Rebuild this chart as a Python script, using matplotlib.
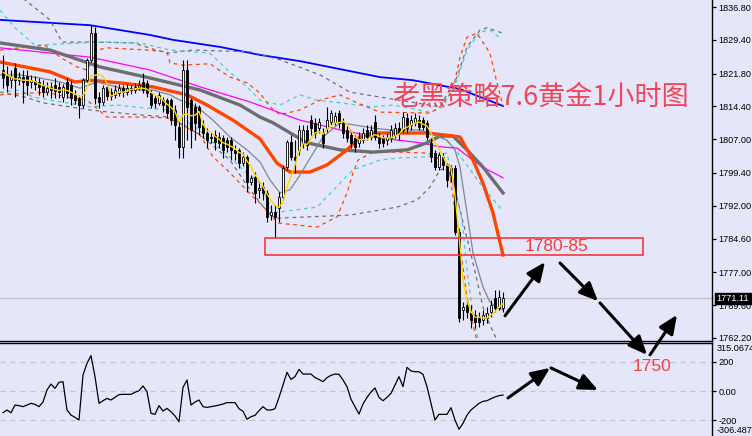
import numpy as np
import matplotlib
matplotlib.use('Agg')
import matplotlib.pyplot as plt
from matplotlib.patches import Rectangle
import matplotlib.transforms as mtransforms

# ---------------- candle data (XAUUSD H1) ----------------
opens = [1822.6, 1821.3, 1820.4, 1823.1, 1820.4, 1821.0, 1821.3, 1819.9, 1820.1, 1819.9,
         1819.2, 1817.6, 1818.8, 1819.2, 1818.8, 1816.5, 1819.9, 1819.2, 1817.0, 1816.3,
         1814.7, 1820.4, 1824.9, 1830.9, 1816.5, 1815.4, 1818.8, 1817.6, 1817.0, 1817.4,
         1818.5, 1817.6, 1818.5, 1818.1, 1818.8, 1819.9, 1819.7, 1817.4, 1816.3, 1815.2,
         1815.8, 1815.8, 1815.8, 1813.6, 1809.8, 1805.3, 1822.6, 1815.8, 1814.3, 1814.3,
         1810.2, 1808.4, 1807.5, 1808.0, 1807.5, 1807.3, 1806.8, 1806.8, 1804.6, 1804.6,
         1801.6, 1803.0, 1797.4, 1798.5, 1795.6, 1796.2, 1794.9, 1789.9, 1790.6, 1791.5,
         1794.0, 1800.7, 1806.4, 1803.0, 1804.6, 1806.2, 1809.1, 1811.3, 1810.7, 1809.5,
         1808.4, 1809.5, 1810.9, 1810.9, 1812.9, 1810.7, 1809.1, 1808.0, 1807.3, 1806.2,
         1806.8, 1809.1, 1807.5, 1810.9, 1807.3, 1807.3, 1806.8, 1807.3, 1808.0, 1809.5,
         1809.1, 1811.8, 1810.2, 1810.7, 1811.3, 1811.3, 1810.7, 1806.2, 1803.9, 1800.7,
         1803.0, 1801.2, 1798.9, 1800.5, 1786.1, 1768.5, 1769.6, 1767.8, 1767.4, 1766.7,
         1766.3, 1766.7, 1768.1, 1771.2, 1769.0, 1769.0]
highs = [1826.0, 1823.5, 1822.6, 1824.2, 1822.2, 1822.6, 1822.6, 1821.5, 1821.3, 1820.8,
         1820.4, 1819.9, 1819.9, 1820.8, 1819.9, 1819.5, 1820.8, 1820.4, 1818.1, 1817.0,
         1820.8, 1825.3, 1832.8, 1832.3, 1817.6, 1819.2, 1819.2, 1818.5, 1819.2, 1819.5,
         1819.2, 1819.5, 1819.2, 1819.7, 1820.4, 1821.9, 1820.4, 1818.1, 1817.0, 1817.6,
         1816.5, 1816.3, 1816.3, 1814.7, 1811.3, 1824.9, 1824.9, 1816.3, 1815.2, 1814.7,
         1811.3, 1809.5, 1808.6, 1809.1, 1808.6, 1808.0, 1807.5, 1807.5, 1805.7, 1805.0,
         1804.1, 1803.4, 1798.9, 1799.6, 1797.1, 1797.4, 1795.6, 1792.2, 1792.2, 1795.1,
         1801.2, 1806.8, 1808.0, 1806.8, 1810.2, 1810.2, 1810.2, 1812.5, 1811.8, 1811.8,
         1809.5, 1814.3, 1813.6, 1813.1, 1813.6, 1811.8, 1810.2, 1809.1, 1808.0, 1808.6,
         1809.5, 1810.2, 1810.2, 1812.5, 1808.4, 1808.0, 1808.4, 1810.2, 1810.7, 1810.9,
         1813.1, 1812.9, 1812.5, 1812.9, 1812.5, 1812.0, 1811.3, 1807.3, 1804.6, 1804.1,
         1803.9, 1801.6, 1801.2, 1801.2, 1787.0, 1770.3, 1770.8, 1769.6, 1768.5, 1768.1,
         1768.5, 1769.2, 1770.8, 1773.0, 1773.0, 1772.6]
lows = [1818.5, 1817.6, 1818.5, 1816.5, 1819.2, 1815.2, 1817.0, 1818.5, 1818.1, 1817.0,
        1816.5, 1817.0, 1816.3, 1816.3, 1816.3, 1815.4, 1816.3, 1814.7, 1814.9, 1811.8,
        1814.0, 1819.9, 1824.4, 1814.9, 1814.0, 1814.7, 1815.8, 1815.8, 1816.3, 1816.7,
        1816.5, 1817.0, 1817.2, 1817.4, 1818.1, 1817.4, 1816.5, 1814.0, 1814.0, 1814.7,
        1813.1, 1811.8, 1810.2, 1806.8, 1802.8, 1802.8, 1806.8, 1805.0, 1806.8, 1808.0,
        1807.3, 1805.0, 1806.2, 1804.6, 1805.0, 1802.8, 1804.1, 1802.3, 1802.3, 1800.5,
        1801.0, 1795.1, 1796.7, 1792.6, 1793.8, 1793.3, 1788.3, 1788.8, 1784.7, 1788.3,
        1793.3, 1800.1, 1802.3, 1799.4, 1803.4, 1805.0, 1804.6, 1808.0, 1807.3, 1808.4,
        1805.0, 1808.6, 1810.2, 1810.2, 1809.5, 1807.3, 1806.4, 1805.0, 1804.1, 1805.3,
        1806.2, 1806.8, 1806.8, 1806.8, 1805.0, 1805.3, 1805.7, 1806.4, 1807.3, 1806.8,
        1808.4, 1808.4, 1809.1, 1810.0, 1809.1, 1809.1, 1806.8, 1801.9, 1800.1, 1800.1,
        1800.1, 1796.2, 1797.4, 1785.4, 1765.8, 1766.3, 1766.7, 1764.4, 1764.4, 1764.7,
        1765.1, 1765.6, 1766.9, 1768.1, 1768.5, 1768.1]
closes = [1820.8, 1819.2, 1821.0, 1820.4, 1821.0, 1819.9, 1819.2, 1820.4, 1819.5, 1818.8,
          1817.6, 1818.5, 1818.1, 1817.9, 1817.6, 1818.8, 1817.4, 1816.3, 1815.8, 1814.7,
          1820.4, 1824.9, 1830.9, 1816.3, 1815.4, 1818.5, 1816.7, 1816.7, 1818.1, 1818.5,
          1817.6, 1818.5, 1818.1, 1818.8, 1819.2, 1818.1, 1817.4, 1814.7, 1815.2, 1817.0,
          1814.7, 1812.9, 1811.3, 1810.2, 1805.3, 1822.6, 1814.3, 1809.1, 1810.7, 1809.8,
          1808.4, 1806.8, 1807.3, 1806.4, 1806.2, 1804.6, 1805.3, 1804.6, 1803.9, 1801.6,
          1803.0, 1797.4, 1798.3, 1794.9, 1796.0, 1794.9, 1789.5, 1790.6, 1789.5, 1794.0,
          1800.5, 1806.4, 1803.0, 1802.3, 1809.1, 1809.1, 1805.7, 1809.5, 1808.4, 1810.9,
          1806.2, 1811.3, 1812.9, 1812.2, 1810.7, 1808.4, 1807.3, 1806.2, 1805.3, 1807.3,
          1808.4, 1807.5, 1809.1, 1807.5, 1806.2, 1806.2, 1807.5, 1809.1, 1809.5, 1808.4,
          1812.0, 1809.5, 1811.3, 1811.8, 1809.8, 1809.8, 1807.5, 1803.0, 1800.7, 1803.4,
          1801.2, 1797.8, 1800.5, 1786.1, 1766.7, 1769.2, 1768.1, 1766.3, 1765.8, 1765.8,
          1767.4, 1767.8, 1769.6, 1769.0, 1771.4, 1771.1]

# fast moving average (yellow), one value per bar
ma_fast = [1822.1, 1821.5, 1821.0, 1820.6, 1820.5, 1820.3, 1820.3, 1820.2, 1820.0, 1819.5,
           1819.1, 1819.0, 1818.5, 1818.2, 1818.0, 1818.2, 1818.0, 1817.6, 1817.2, 1816.6,
           1816.9, 1818.4, 1821.3, 1821.4, 1821.6, 1821.2, 1819.6, 1816.7, 1817.1, 1817.7,
           1817.6, 1817.9, 1818.2, 1818.3, 1818.5, 1818.5, 1818.3, 1817.6, 1816.9, 1816.5,
           1815.8, 1814.9, 1814.2, 1813.2, 1810.9, 1812.5, 1812.7, 1812.3, 1812.4, 1813.3,
           1810.4, 1808.9, 1808.6, 1807.7, 1807.0, 1806.2, 1805.9, 1805.4, 1804.9, 1804.0,
           1803.7, 1802.1, 1800.8, 1799.0, 1797.9, 1796.3, 1794.7, 1793.2, 1792.1, 1791.7,
           1792.8, 1796.2, 1798.7, 1801.2, 1804.3, 1806.0, 1805.8, 1807.1, 1808.4, 1808.7,
           1808.1, 1809.3, 1809.9, 1810.7, 1810.7, 1811.1, 1810.3, 1808.9, 1807.5, 1806.9,
           1806.9, 1806.9, 1807.5, 1808.0, 1807.7, 1807.3, 1807.3, 1807.3, 1807.7, 1808.1,
           1809.3, 1809.7, 1810.2, 1810.6, 1810.9, 1810.4, 1810.0, 1808.4, 1806.2, 1804.9,
           1803.2, 1801.2, 1800.7, 1794.4, 1785.4, 1775.3, 1770.8, 1768.1, 1766.9, 1766.9,
           1766.7, 1766.7, 1767.4, 1768.1, 1769.2, 1769.9]

# CCI values (lower window), one per bar
cci = [-150, -131, -150, -97, -101, -108, -97, -85, -92, -108,
       -76, 7, 48, 18, 60, 64, -131, -166, -182, -200,
       110, 191, 244, 99, -85, -67, -51, -62, -44, -25,
       -23, -23, -23, -9, 2, 35, -5, -154, -161, -101,
       -138, -120, -143, -172, -212, 25, 76, -97, -76, -62,
       -108, -113, -108, -103, -97, -90, -80, -80, -80, -122,
       -140, -195, -177, -168, -136, -108, -131, -131, -122, -44,
       41, 129, 80, 99, 149, 117, 117, 117, 92, 80,
       64, 92, 108, 117, 115, 76, 30, -57, -108, -159,
       -90, -44, -7, 21, -44, -67, -44, -16, 41, 99,
       30, 163, 138, 133, 133, 115, 30, -85, -200, -161,
       -161, -161, -115, -200, -264, -223, -166, -131, -108, -85,
       -71, -67, -53, -41, -32, -28]

# traced indicator lines (bar position, price)
blue_x = [-0.75, 21.75, 36.75, 42.5, 54.25, 64.25, 74.25, 94.25, 102.5, 114.25, 125]
blue_p = [1833.9, 1832.7, 1830.5, 1829.4, 1827.8, 1826.0, 1824.6, 1821.0, 1820.3, 1818.3, 1814.5]

mag_x = [-0.75, 21.75, 36.75, 49.25, 61.75, 74.25, 84.25, 94.25, 104.25, 109.25, 113.5, 116.75, 120, 125]
mag_p = [1827.6, 1825.5, 1822.6, 1818.8, 1815.4, 1811.3, 1809.1, 1807.3, 1806.2, 1805.3, 1805.0, 1802.8, 1800.7, 1798.3]

gthick_x = [-0.75, 11.75, 24.25, 36.75, 49.25, 59.25, 64.25, 67.5, 76, 84.25, 92.5, 101, 106, 109.25, 112.5, 116, 120, 125]
gthick_p = [1828.7, 1827.1, 1823.3, 1820.8, 1818.1, 1814.7, 1812.0, 1810.7, 1806.2, 1804.6, 1804.1, 1804.6, 1806.2, 1807.7, 1807.7, 1804.6, 1800.7, 1794.9]

othick_x = [-0.75, 11.75, 18, 21.75, 29.25, 37.5, 46, 51, 57.5, 64.25, 68.5, 71.75, 76.75, 81, 86, 89.25, 92.5, 106, 111, 114.25, 117.5, 120, 122.5, 125]
othick_p = [1824.4, 1822.2, 1819.9, 1820.3, 1819.7, 1818.8, 1817.0, 1814.7, 1811.3, 1807.1, 1801.6, 1799.6, 1799.6, 1801.2, 1804.6, 1807.5, 1808.4, 1808.4, 1807.9, 1807.5, 1802.3, 1797.1, 1790.4, 1780.9]

gthin_x = [-0.75, 4.25, 9.25, 14.25, 19.25, 23.5, 27.5, 31.75, 37.5, 41.75, 44.25, 48.5, 52.5, 56.75, 61, 64.25, 66.75, 69.25, 71.75, 74.25, 76, 80, 84.25, 88, 92.5, 96.75, 101, 104.25, 107.5, 111, 113, 114.25, 116, 117.5, 120, 121.75, 123.5, 125]
gthin_p = [1821.5, 1821.5, 1820.8, 1819.9, 1818.5, 1819.9, 1819.0, 1818.1, 1818.1, 1817.0, 1815.8, 1814.3, 1811.3, 1807.5, 1804.6, 1801.9, 1797.8, 1794.9, 1795.6, 1798.9, 1801.6, 1807.5, 1810.7, 1810.2, 1809.5, 1809.1, 1809.1, 1809.1, 1808.0, 1806.8, 1804.6, 1800.7, 1790.4, 1781.4, 1773.7, 1770.3, 1769.0, 1768.5]

# dashed envelopes
orU_x = [-0.75, 10.5, 14.25, 18.5, 21, 23.5, 26, 36, 41, 41.75, 45, 51.75, 56.75, 61, 64.25, 66.75, 69.25, 74.25, 79.25, 84.25, 88.5, 94.25, 106.75, 109.25, 112.5, 114.25, 116, 118.5, 121.75, 123.5, 125]
orU_p = [1827.1, 1828.2, 1825.5, 1823.3, 1822.6, 1827.1, 1827.6, 1827.1, 1826.7, 1824.2, 1823.7, 1824.0, 1821.0, 1819.7, 1817.4, 1814.3, 1812.5, 1813.6, 1815.8, 1817.0, 1815.2, 1813.1, 1812.9, 1814.3, 1818.1, 1825.5, 1830.0, 1830.9, 1826.4, 1819.7, 1814.5]
orL_x = [-0.75, 11, 16, 21, 26, 35, 41, 43.5, 49.25, 52.5, 56, 58.5, 62.5, 64.25, 68.75, 78.5, 83.5, 86, 87.5, 88.75, 92.5, 98.5, 106, 111.25, 113.75, 116, 117.5, 118.75]
orL_p = [1817.0, 1817.6, 1816.5, 1815.8, 1812.0, 1812.0, 1811.8, 1810.9, 1808.0, 1803.0, 1800.1, 1797.8, 1794.0, 1792.6, 1788.1, 1787.2, 1789.5, 1794.9, 1799.4, 1802.3, 1804.1, 1804.1, 1803.9, 1801.6, 1786.5, 1771.4, 1765.1, 1760.6]
cyU_x = [-0.75, 3, 8, 24.25, 34.25, 41.75, 51.75, 56.75, 61, 64.25, 69.25, 74.25, 78.5, 84.25, 92.5, 97.5, 106.75, 110, 113.5, 116, 119.25, 121.75, 124.25]
cyU_p = [1836.1, 1832.1, 1828.2, 1828.9, 1828.7, 1827.1, 1826.4, 1822.1, 1818.8, 1815.8, 1814.7, 1817.0, 1815.8, 1815.2, 1814.3, 1814.7, 1813.1, 1814.3, 1820.3, 1827.1, 1831.2, 1831.6, 1829.8]
cyL_x = [-0.75, 4.25, 7.5, 21.75, 28.5, 36, 41, 44.25, 48.5, 51.75, 56.75, 60, 64.25, 67.5, 78.5, 84.25, 87.5, 94.25, 99.25, 106, 111, 114.75, 116, 117.25, 118.25, 119.25]
cyL_p = [1817.6, 1818.1, 1816.5, 1814.3, 1814.7, 1814.0, 1813.6, 1812.0, 1809.5, 1806.8, 1803.0, 1800.1, 1797.1, 1790.4, 1791.7, 1797.1, 1800.1, 1802.3, 1802.8, 1803.0, 1803.9, 1788.8, 1777.5, 1769.2, 1764.0, 1760.6]
cyM_x = [104.25, 109.25, 112.5, 115, 119.25, 124.75]
cyM_p = [1809.1, 1808.0, 1805.3, 1802.3, 1797.1, 1791.0]
grU_x = [0.25, 5.5, 11.75, 14.75, 23.5, 32.5, 41, 47.5, 61.75, 69.25, 79.25, 86.75, 94.25, 109.25, 113.5, 116, 119.25, 121, 125]
grU_p = [1840.6, 1838.4, 1833.9, 1828.9, 1828.9, 1828.7, 1826.4, 1827.1, 1826.7, 1824.9, 1821.5, 1817.6, 1816.5, 1814.3, 1821.0, 1827.8, 1831.6, 1832.1, 1830.9]
grL_x = [-0.75, 5.5, 10, 21.75, 26.75, 34.25, 41.75, 49.25, 56.75, 61.75, 66.75, 68.5, 86.75, 98.5, 103.5, 106.75, 109.25, 111, 113, 115.5, 117.5, 120, 121.75, 123.5]
grL_p = [1817.6, 1816.5, 1815.2, 1813.6, 1813.1, 1812.5, 1812.0, 1808.0, 1802.3, 1795.6, 1789.9, 1789.2, 1789.9, 1791.7, 1793.3, 1796.2, 1800.1, 1800.5, 1795.6, 1786.5, 1779.1, 1769.2, 1765.1, 1761.7]

# axis values / labels
main_ticks = [1836.80, 1829.40, 1821.80, 1814.40, 1807.00, 1799.40, 1792.00, 1784.60, 1777.00, 1769.60, 1762.20]
cci_ticks = [200, 0, -200]
cci_tick_labels = ['200', '0.00', '-200']
cci_max_label, cci_min_label = '315.0674', '-306.487'
last_price = 1771.11

# annotations
zone_x = (65.5, 160.0)
zone_p = (1780.9, 1784.74)
title_text = '老黑策略7.6黄金1小时图'
zone_text = '1780-85'
target_text = '1750'
arrows_main = [((125.5, 1767.2), (135.5, 1779.3)),
               ((139.25, 1779.1), (148.75, 1770.5)),
               ((149.25, 1770.1), (161.0, 1758.4)),
               ((161.75, 1758.4), (168.5, 1767.4))]
arrows_cci = [((126.25, -48), (136.75, 159)),
              ((137.0, 159), (148.75, 7))]

# ---------------- figure ----------------
W, H, DPI = 752, 436, 100
BG = '#e6e6fa'
LBL = 6.6
plt.rcParams['font.family'] = ['Liberation Sans', 'DejaVu Sans']

fig = plt.figure(figsize=(W / DPI, H / DPI), dpi=DPI, facecolor=BG)
ax = fig.add_axes([0, 95 / H, 712 / W, 341 / H], facecolor=BG)
ax2 = fig.add_axes([0, 0, 712 / W, 93 / H], facecolor=BG)
ax.set_zorder(2)
ax2.set_zorder(1)

XL = (-0.75, 177.25)
for a in (ax, ax2):
    a.set_xlim(*XL)
    a.set_xticks([])
    for s in ('left', 'top', 'bottom', 'right'):
        a.spines[s].set_visible(False)
    a.spines['right'].set_visible(True)
    a.spines['right'].set_color('black')
    a.spines['right'].set_linewidth(1.0)
ax.spines['bottom'].set_visible(True)
ax.spines['bottom'].set_linewidth(1.0)
ax2.spines['top'].set_visible(True)
ax2.spines['top'].set_linewidth(1.0)

ax.set_ylim(1761.52, 1838.38)
ax2.set_ylim(-310.3, 331.0)

x = np.arange(len(closes))
o = np.array(opens); c = np.array(closes)
hgt = c - o
hgt = np.where(np.abs(hgt) < 0.08, -0.08, hgt)

dash = (0, (3, 3))
ax.axhline(last_price, color='#c0c0c0', lw=0.9, zorder=1)

# indicator lines
ax.plot(blue_x, blue_p, color='#0000ff', lw=1.3, zorder=2)
ax.plot(grU_x, grU_p, color='#707070', lw=0.9, ls=dash, zorder=2)
ax.plot(grL_x, grL_p, color='#707070', lw=0.9, ls=dash, zorder=2)
ax.plot(cyU_x, cyU_p, color='#40d0d0', lw=0.9, ls=dash, zorder=2)
ax.plot(cyL_x, cyL_p, color='#40d0d0', lw=0.9, ls=dash, zorder=2)
ax.plot(cyM_x, cyM_p, color='#40d0d0', lw=0.9, ls=dash, zorder=2)
ax.plot(orU_x, orU_p, color='#ff4500', lw=0.9, ls=dash, zorder=2)
ax.plot(orL_x, orL_p, color='#ff4500', lw=0.9, ls=dash, zorder=2)
ax.plot(mag_x, mag_p, color='#ff00ff', lw=0.9, zorder=2)
ax.plot(gthick_x, gthick_p, color='#6e6e6e', lw=2.4, zorder=2)
ax.plot(othick_x, othick_p, color='#ff4500', lw=2.4, zorder=2)
ax.plot(gthin_x, gthin_p, color='#7a8896', lw=0.9, zorder=2)

# candles
ax.vlines(x, lows, highs, color='black', lw=0.8, zorder=3)
cols = ['white' if cc > oo else 'black' for oo, cc in zip(opens, closes)]
ax.bar(x, hgt, bottom=o, width=0.72, color=cols, edgecolor='black', linewidth=0.6, zorder=4)

ax.plot(x, ma_fast, color='#ffd700', lw=1.0, zorder=5)

# zone box and texts
ax.add_patch(Rectangle((zone_x[0], zone_p[0]), zone_x[1] - zone_x[0], zone_p[1] - zone_p[0],
                       fill=False, edgecolor='#f03a3a', lw=1.2, zorder=6))
ax.text(138.25, 1782.8, zone_text, color='#f04040', fontsize=12.5, ha='center', va='center', zorder=7)
ax.text(134.5, 1816.6, title_text, color='#f0465a', fontsize=19.5, ha='center', va='center',
        family=['Noto Sans CJK SC', 'DejaVu Sans'], zorder=7)

aprops = dict(arrowstyle='-|>,head_length=0.8,head_width=0.35', color='black', lw=2.2,
              mutation_scale=14, shrinkA=0, shrinkB=0)
for (s, e) in arrows_main:
    ax.annotate('', xy=e, xytext=s, arrowprops=aprops, annotation_clip=False, zorder=8)
for (s, e) in arrows_cci:
    ax2.annotate('', xy=e, xytext=s, arrowprops=aprops, annotation_clip=False, zorder=8)

# right price scale
ax.yaxis.tick_right()
ax.set_yticks(main_ticks)
ax.set_yticklabels([f'{t:.2f}' for t in main_ticks])
ax.tick_params(axis='y', direction='out', length=3, width=0.9, pad=1.5, labelsize=LBL, colors='black')
trans = mtransforms.blended_transform_factory(ax.transAxes, ax.transData)
ax.text(1.0 + 4.5 / 712, last_price, f'{last_price:.2f}', transform=trans, color='white',
        fontsize=LBL, ha='left', va='center', clip_on=False, zorder=10,
        bbox=dict(boxstyle='square,pad=0.15', fc='black', ec='black'))

# lower window (CCI)
for lv in cci_ticks:
    ax2.axhline(lv, color='#c4c4c4', lw=0.9, ls=(0, (4, 4)), zorder=1)
ax2.plot(x, cci, color='black', lw=0.9, zorder=3)
ax2.yaxis.tick_right()
ax2.set_yticks(cci_ticks)
ax2.set_yticklabels(cci_tick_labels)
ax2.tick_params(axis='y', direction='out', length=3, width=0.9, pad=1.5, labelsize=LBL, colors='black')
ax2.text(1.0 + 4.5 / 712, 0.94, cci_max_label, transform=ax2.transAxes, fontsize=LBL,
         ha='left', va='center', clip_on=False)
ax2.text(1.0 + 4.5 / 712, 0.055, cci_min_label, transform=ax2.transAxes, fontsize=LBL,
         ha='left', va='center', clip_on=False)
ax2.text(162.25, 172, target_text, color='#f04040', fontsize=12.5, ha='center', va='center',
         clip_on=False, zorder=9)

fig.savefig('out.png', dpi=DPI, facecolor=BG)
